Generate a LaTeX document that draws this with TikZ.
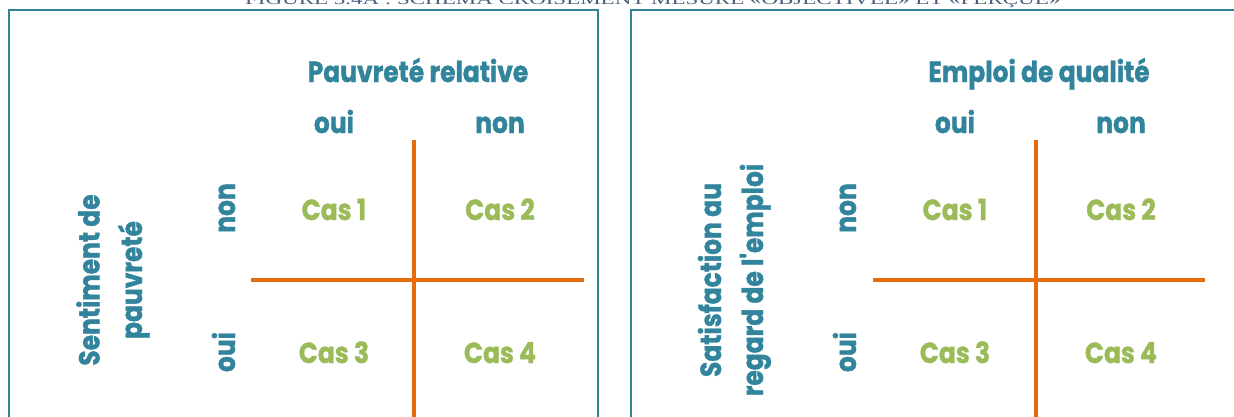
\documentclass[tikz,border=0pt]{standalone}
\usepackage{fontspec}
\newfontfamily\labfont[FakeStretch=0.86, BoldFeatures={FakeBold=1.3}]{Poppins}
\newfontfamily\capfont{Liberation Serif}
\definecolor{tealA}{HTML}{31849B}
\definecolor{orangeA}{HTML}{E46C0A}
\definecolor{greenA}{HTML}{9BBB59}
\definecolor{capcol}{HTML}{4A5F7E}
\begin{document}
\begin{tikzpicture}[x=1pt,y=-1pt,
  lab/.style={font=\labfont\bfseries\fontsize{29}{31}\selectfont, text=tealA, inner sep=0pt, anchor=base},
  cas/.style={font=\labfont\bfseries\fontsize{29}{31}\selectfont, text=greenA, inner sep=0pt, anchor=base},
  vlab/.style={lab, rotate=90},
  frame/.style={draw=tealA, line width=2pt},
  gridline/.style={draw=orangeA, line width=4pt}]
\useasboundingbox (0,0) rectangle (1234,416);
\begin{scope}
\clip (0,0) rectangle (1234,416);
% caption (cut off at the top, as in the reference)
\node[font=\capfont, text=capcol, inner sep=0pt, anchor=base west] (cap) at (245,4)
  {\resizebox{815pt}{13pt}{FIGURE 5.4A : SCHÉMA CROISEMENT MESURE «OBJECTIVÉE» ET «PERÇUE»}};
% frames
\draw[frame] (8.5,430) -- (8.5,9.5) -- (597.5,9.5) -- (597.5,430);
\draw[frame] (630.5,430) -- (630.5,9.5) -- (1250,9.5);

% ---------- left panel ----------
\node[lab] (t1) at (418,82) {Pauvreté relative};
\node[lab] (c1oui) at (334,133) {oui};
\node[lab] (c1non) at (500,133) {non};
\node[cas] (a1) at (334,220) {Cas 1};
\node[cas] (a2) at (500,220) {Cas 2};
\node[cas] (a3) at (334,363) {Cas 3};
\node[cas] (a4) at (500,363) {Cas 4};
\node[vlab] (r1non) at (235,208) {non};
\node[vlab] (r1oui) at (235,352) {oui};
\node[vlab] (s1a) at (99.5,280) {Sentiment de};
\node[vlab] (s1b) at (142,280) {pauvreté};
\coordinate (v1t) at (414,140);
\coordinate (v1b) at (414,430);
\coordinate (h1l) at (251,280);
\coordinate (h1r) at (584,280);
\draw[gridline] (v1t) -- (v1b);
\draw[gridline] (h1l) -- (h1r);

% ---------- right panel ----------
\node[lab] (t2) at (1039,82) {Emploi de qualité};
\node[lab] (c2oui) at (955,133) {oui};
\node[lab] (c2non) at (1121,133) {non};
\node[cas] (b1) at (955,220) {Cas 1};
\node[cas] (b2) at (1121,220) {Cas 2};
\node[cas] (b3) at (955,363) {Cas 3};
\node[cas] (b4) at (1121,363) {Cas 4};
\node[vlab] (r2non) at (856,208) {non};
\node[vlab] (r2oui) at (856,352) {oui};
\node[vlab] (s2a) at (721,280) {Satisfaction au};
\node[vlab] (s2b) at (763,280) {regard de l'emploi};
\coordinate (v2t) at (1036,140);
\coordinate (v2b) at (1036,430);
\coordinate (h2l) at (873,280);
\coordinate (h2r) at (1205,280);
\draw[gridline] (v2t) -- (v2b);
\draw[gridline] (h2l) -- (h2r);
\end{scope}
\end{tikzpicture}
\end{document}
